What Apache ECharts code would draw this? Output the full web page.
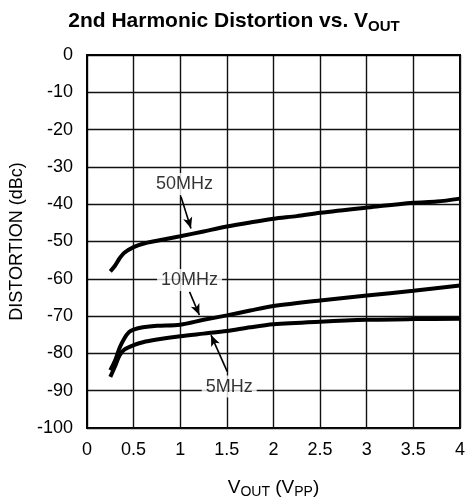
<!DOCTYPE html>
<html>
<head>
<meta charset="utf-8">
<script src="https://cdn.jsdelivr.net/npm/echarts@6/dist/echarts.min.js"></script>
<style>html,body{margin:0;padding:0;background:#fff}#c{width:468px;height:504px}</style>
</head>
<body>
<div id="c"></div>
<script>
// X values (V_PP) and distortion (dBc) for each curve
var vout50 = [0.25, 0.3, 0.35, 0.4, 0.5, 0.6, 0.75, 1, 1.25, 1.5, 1.75, 2, 2.25, 2.5, 3, 3.5, 3.75, 4];
var dist50 = [-58, -56.5, -54.5, -53, -51.5, -50.6, -49.8, -48.6, -47.3, -46, -44.9, -43.9, -43.2, -42.3, -40.9, -39.6, -39.3, -38.5];

var vout10 = [0.25, 0.3, 0.35, 0.4, 0.45, 0.5, 0.6, 0.75, 1, 1.25, 1.5, 1.75, 2, 2.5, 3, 3.5, 4];
var dist10 = [-84.5, -82, -78.5, -76, -74.3, -73.6, -73, -72.6, -72.3, -71, -69.8, -68.5, -67.3, -65.8, -64.5, -63.2, -61.8];

var vout5 = [0.25, 0.3, 0.35, 0.4, 0.5, 0.6, 0.75, 1, 1.25, 1.5, 1.75, 2, 2.5, 3, 3.5, 4];
var dist5 = [-86.3, -83.5, -80.5, -79, -77.8, -77, -76.3, -75.4, -74.7, -74, -73, -72.2, -71.5, -71, -70.8, -70.7];

var yTicks = [0, -10, -20, -30, -40, -50, -60, -70, -80, -90, -100];

// Annotation labels and arrows (in data units)
var labelNames = ['50MHz', '10MHz', '5MHz'];
var labelX = [1.045, 1.1, 1.525];
var labelY = [-34.6, -60.3, -88.9];
var arrowFrom = [[1.008, -38.0], [1.1, -63.5], [1.504, -84.9]];
var arrowTo = [[1.115, -46.5], [1.205, -69.7], [1.33, -75.1]];

function pairs(xs, ys) { return xs.map(function (x, i) { return [x, ys[i]]; }); }

var font = '"Liberation Sans", Arial, Helvetica, sans-serif';
var lineStyle = { color: '#000', width: 4 };

var chart = echarts.init(document.getElementById('c'), null, { renderer: 'canvas' });
chart.setOption({
  animation: false,
  backgroundColor: '#fff',
  title: {
    text: '{a|2nd Harmonic Distortion vs. V}{s|OUT}',
    left: 'center',
    top: 4,
    textStyle: {
      rich: {
        a: { fontFamily: font, fontWeight: 'bold', fontSize: 21, color: '#000' },
        s: { fontFamily: font, fontWeight: 'bold', fontSize: 15, color: '#000', padding: [10, 0, 0, 0] }
      }
    }
  },
  grid: { left: 87, right: 6, top: 55, bottom: 76, show: true, borderColor: '#000', borderWidth: 2, backgroundColor: 'transparent' },
  xAxis: {
    type: 'value', min: 0, max: 4, interval: 0.5,
    axisLine: { show: true, lineStyle: { color: '#000', width: 2 } },
    axisTick: { show: false },
    splitLine: { show: true, lineStyle: { color: '#111', width: 1.4 } },
    axisLabel: { fontFamily: font, fontSize: 18, color: '#000', margin: 13 },
    name: '{a|V}{s|OUT}{a| (V}{s|PP}{a|)}',
    nameLocation: 'middle',
    nameGap: 48,
    nameTextStyle: {
      rich: {
        a: { fontFamily: font, fontSize: 19, color: '#000' },
        s: { fontFamily: font, fontSize: 14, color: '#000', padding: [9, 0, 0, 0] }
      }
    }
  },
  yAxis: {
    type: 'value', min: -100, max: 0, interval: 10,
    axisLine: { show: true, lineStyle: { color: '#000', width: 2 } },
    axisTick: { show: false },
    splitLine: { show: true, lineStyle: { color: '#111', width: 1.4 } },
    axisLabel: {
      fontFamily: font, fontSize: 18, color: '#000', margin: 14,
      formatter: function (v) { return yTicks.indexOf(v) >= 0 ? String(v) : ''; }
    },
    name: 'DISTORTION (dBc)',
    nameLocation: 'middle',
    nameGap: 55,
    nameTextStyle: { fontFamily: font, fontSize: 18, color: '#000' }
  },
  series: [
    { name: '50MHz', type: 'line', data: pairs(vout50, dist50), showSymbol: false, smooth: 0.3, lineStyle: lineStyle, z: 5 },
    { name: '10MHz', type: 'line', data: pairs(vout10, dist10), showSymbol: false, smooth: 0.3, lineStyle: lineStyle, z: 5 },
    { name: '5MHz', type: 'line', data: pairs(vout5, dist5), showSymbol: false, smooth: 0.3, lineStyle: lineStyle, z: 5 },
    {
      type: 'scatter',
      data: labelNames.map(function (n, i) { return [labelX[i], labelY[i], n]; }),
      symbolSize: 1,
      itemStyle: { color: 'rgba(0,0,0,0)' },
      z: 6,
      label: {
        show: true, position: 'inside',
        formatter: function (p) { return p.data[2]; },
        fontFamily: font, fontSize: 18, color: '#000',
        backgroundColor: '#fff', padding: [2, 4]
      },
      markLine: {
        silent: true,
        symbol: ['none', 'arrow'],
        symbolSize: [7, 11],
        label: { show: false },
        lineStyle: { color: '#000', width: 1.6, type: 'solid' },
        data: arrowFrom.map(function (f, i) { return [{ coord: f }, { coord: arrowTo[i] }]; })
      }
    }
  ]
});
</script>
</body>
</html>
